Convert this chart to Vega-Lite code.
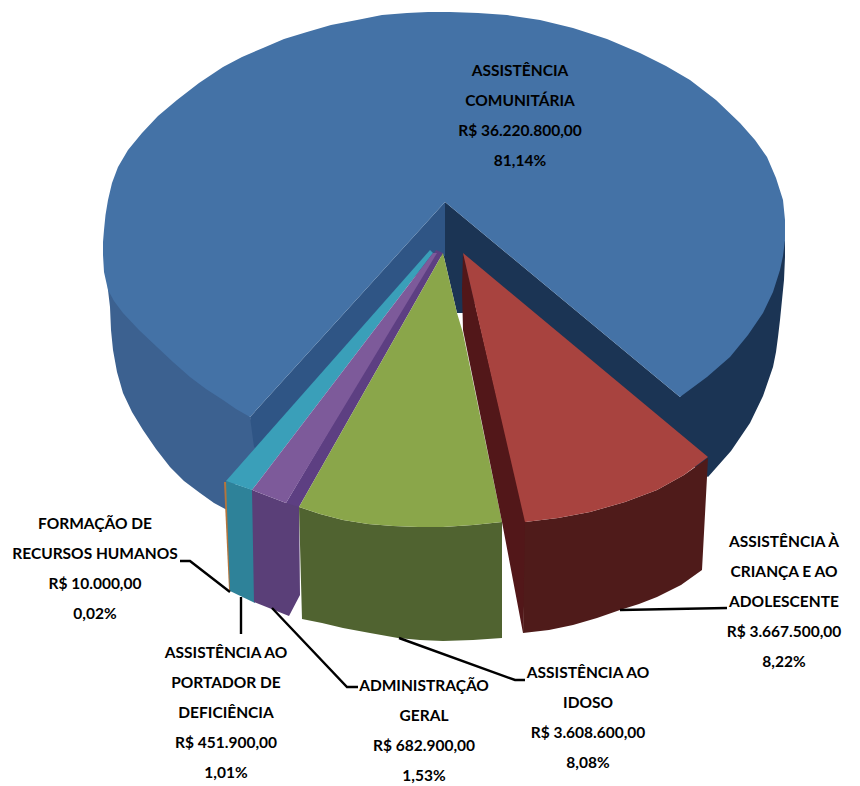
{
"$schema":"https://vega.github.io/schema/vega-lite/v6.json",
"width":860,"height":786,"padding":0,"autosize":{"type":"none"},
"background":"white",
"view":{"stroke":null},
"datasets":{
"shapes":[
{"part":"Comunitária parede direita","i":0,"x":445,"y":202},{"part":"Comunitária parede direita","i":1,"x":680,"y":397},{"part":"Comunitária parede direita","i":2,"x":785,"y":240},{"part":"Comunitária parede direita","i":3,"x":785,"y":257},{"part":"Comunitária parede direita","i":4,"x":784,"y":280},{"part":"Comunitária parede direita","i":5,"x":782,"y":300},{"part":"Comunitária parede direita","i":6,"x":780,"y":320},{"part":"Comunitária parede direita","i":7,"x":778,"y":337},{"part":"Comunitária parede direita","i":8,"x":776,"y":352},{"part":"Comunitária parede direita","i":9,"x":773,"y":367},{"part":"Comunitária parede direita","i":10,"x":763,"y":396},{"part":"Comunitária parede direita","i":11,"x":750,"y":423},{"part":"Comunitária parede direita","i":12,"x":731,"y":451},{"part":"Comunitária parede direita","i":13,"x":708,"y":477},{"part":"Comunitária parede direita","i":14,"x":470,"y":300},{"part":"Comunitária parede direita","i":15,"x":463,"y":313},{"part":"Comunitária parede direita","i":16,"x":457,"y":313},{"part":"Comunitária parede direita","i":17,"x":443,"y":253},
{"part":"Comunitária parede esquerda","i":0,"x":105,"y":223},{"part":"Comunitária parede esquerda","i":1,"x":106,"y":250},{"part":"Comunitária parede esquerda","i":2,"x":107,"y":270},{"part":"Comunitária parede esquerda","i":3,"x":108,"y":290},{"part":"Comunitária parede esquerda","i":4,"x":110,"y":307},{"part":"Comunitária parede esquerda","i":5,"x":111,"y":330},{"part":"Comunitária parede esquerda","i":6,"x":113,"y":350},{"part":"Comunitária parede esquerda","i":7,"x":117,"y":372},{"part":"Comunitária parede esquerda","i":8,"x":123,"y":393},{"part":"Comunitária parede esquerda","i":9,"x":132,"y":412},{"part":"Comunitária parede esquerda","i":10,"x":143,"y":430},{"part":"Comunitária parede esquerda","i":11,"x":156,"y":449},{"part":"Comunitária parede esquerda","i":12,"x":170,"y":467},{"part":"Comunitária parede esquerda","i":13,"x":184,"y":481},{"part":"Comunitária parede esquerda","i":14,"x":200,"y":493},{"part":"Comunitária parede esquerda","i":15,"x":214,"y":503},{"part":"Comunitária parede esquerda","i":16,"x":227,"y":510},{"part":"Comunitária parede esquerda","i":17,"x":235,"y":484},{"part":"Comunitária parede esquerda","i":18,"x":262,"y":452},{"part":"Comunitária parede esquerda","i":19,"x":250,"y":417},
{"part":"Comunitária corte","i":0,"x":445,"y":202},{"part":"Comunitária corte","i":1,"x":445,"y":256},{"part":"Comunitária corte","i":2,"x":433,"y":256},{"part":"Comunitária corte","i":3,"x":262,"y":452},{"part":"Comunitária corte","i":4,"x":254,"y":447},{"part":"Comunitária corte","i":5,"x":250,"y":417},
{"part":"Comunitária topo","i":0,"x":445,"y":202},{"part":"Comunitária topo","i":1,"x":250,"y":417},{"part":"Comunitária topo","i":2,"x":236,"y":409},{"part":"Comunitária topo","i":3,"x":223,"y":400},{"part":"Comunitária topo","i":4,"x":206,"y":389},{"part":"Comunitária topo","i":5,"x":190,"y":377},{"part":"Comunitária topo","i":6,"x":173,"y":362},{"part":"Comunitária topo","i":7,"x":157,"y":347},{"part":"Comunitária topo","i":8,"x":139,"y":330},{"part":"Comunitária topo","i":9,"x":123,"y":313},{"part":"Comunitária topo","i":10,"x":114,"y":301},{"part":"Comunitária topo","i":11,"x":108,"y":290},{"part":"Comunitária topo","i":12,"x":104,"y":272},{"part":"Comunitária topo","i":13,"x":103,"y":255},{"part":"Comunitária topo","i":14,"x":103,"y":242},{"part":"Comunitária topo","i":15,"x":104,"y":230},{"part":"Comunitária topo","i":16,"x":105.5,"y":215},{"part":"Comunitária topo","i":17,"x":108,"y":200},{"part":"Comunitária topo","i":18,"x":112,"y":183},{"part":"Comunitária topo","i":19,"x":118,"y":167},{"part":"Comunitária topo","i":20,"x":128,"y":150},{"part":"Comunitária topo","i":21,"x":142,"y":133},{"part":"Comunitária topo","i":22,"x":158,"y":116},{"part":"Comunitária topo","i":23,"x":177,"y":100},{"part":"Comunitária topo","i":24,"x":199,"y":83},{"part":"Comunitária topo","i":25,"x":223,"y":67},{"part":"Comunitária topo","i":26,"x":242,"y":57},{"part":"Comunitária topo","i":27,"x":263,"y":48},{"part":"Comunitária topo","i":28,"x":284,"y":39},{"part":"Comunitária topo","i":29,"x":307,"y":32},{"part":"Comunitária topo","i":30,"x":331,"y":25},{"part":"Comunitária topo","i":31,"x":357,"y":20},{"part":"Comunitária topo","i":32,"x":382,"y":15},{"part":"Comunitária topo","i":33,"x":407,"y":13},{"part":"Comunitária topo","i":34,"x":428,"y":12},{"part":"Comunitária topo","i":35,"x":450,"y":12},{"part":"Comunitária topo","i":36,"x":478,"y":13},{"part":"Comunitária topo","i":37,"x":507,"y":15},{"part":"Comunitária topo","i":38,"x":540,"y":20},{"part":"Comunitária topo","i":39,"x":573,"y":28},{"part":"Comunitária topo","i":40,"x":607,"y":39},{"part":"Comunitária topo","i":41,"x":640,"y":53},{"part":"Comunitária topo","i":42,"x":666,"y":66},{"part":"Comunitária topo","i":43,"x":690,"y":80},{"part":"Comunitária topo","i":44,"x":716,"y":100},{"part":"Comunitária topo","i":45,"x":740,"y":123},{"part":"Comunitária topo","i":46,"x":755,"y":140},{"part":"Comunitária topo","i":47,"x":767,"y":157},{"part":"Comunitária topo","i":48,"x":776,"y":178},{"part":"Comunitária topo","i":49,"x":783,"y":200},{"part":"Comunitária topo","i":50,"x":785,"y":220},{"part":"Comunitária topo","i":51,"x":785,"y":240},{"part":"Comunitária topo","i":52,"x":783,"y":256},{"part":"Comunitária topo","i":53,"x":780,"y":270},{"part":"Comunitária topo","i":54,"x":773,"y":292},{"part":"Comunitária topo","i":55,"x":763,"y":313},{"part":"Comunitária topo","i":56,"x":748,"y":335},{"part":"Comunitária topo","i":57,"x":730,"y":357},{"part":"Comunitária topo","i":58,"x":707,"y":377},{"part":"Comunitária topo","i":59,"x":680,"y":397},
{"part":"Formação frente","i":0,"x":224,"y":482},{"part":"Formação frente","i":1,"x":228,"y":482},{"part":"Formação frente","i":2,"x":232,"y":591},{"part":"Formação frente","i":3,"x":229,"y":590},
{"part":"Portador frente","i":0,"x":226,"y":481},{"part":"Portador frente","i":1,"x":253,"y":490},{"part":"Portador frente","i":2,"x":255,"y":603},{"part":"Portador frente","i":3,"x":230,"y":591},
{"part":"Portador topo","i":0,"x":430,"y":250},{"part":"Portador topo","i":1,"x":433,"y":253},{"part":"Portador topo","i":2,"x":252,"y":490},{"part":"Portador topo","i":3,"x":226,"y":481},
{"part":"Geral frente","i":0,"x":252,"y":490},{"part":"Geral frente","i":1,"x":286,"y":503},{"part":"Geral frente","i":2,"x":299,"y":500},{"part":"Geral frente","i":3,"x":300,"y":595},{"part":"Geral frente","i":4,"x":289,"y":616},{"part":"Geral frente","i":5,"x":254,"y":602},
{"part":"Geral corte","i":0,"x":436,"y":250},{"part":"Geral corte","i":1,"x":286,"y":503},{"part":"Geral corte","i":2,"x":299,"y":507},{"part":"Geral corte","i":3,"x":443,"y":253},
{"part":"Geral topo","i":0,"x":433,"y":253},{"part":"Geral topo","i":1,"x":252,"y":490},{"part":"Geral topo","i":2,"x":286,"y":503},{"part":"Geral topo","i":3,"x":437,"y":253},
{"part":"Idoso frente","i":0,"x":299,"y":507},{"part":"Idoso frente","i":1,"x":320,"y":514},{"part":"Idoso frente","i":2,"x":343,"y":520},{"part":"Idoso frente","i":3,"x":368,"y":524},{"part":"Idoso frente","i":4,"x":393,"y":526},{"part":"Idoso frente","i":5,"x":418,"y":527},{"part":"Idoso frente","i":6,"x":443,"y":527},{"part":"Idoso frente","i":7,"x":473,"y":525},{"part":"Idoso frente","i":8,"x":502,"y":522},{"part":"Idoso frente","i":9,"x":502,"y":638},{"part":"Idoso frente","i":10,"x":473,"y":640},{"part":"Idoso frente","i":11,"x":443,"y":641},{"part":"Idoso frente","i":12,"x":420,"y":640},{"part":"Idoso frente","i":13,"x":398,"y":638},{"part":"Idoso frente","i":14,"x":370,"y":633},{"part":"Idoso frente","i":15,"x":343,"y":628},{"part":"Idoso frente","i":16,"x":322,"y":623},{"part":"Idoso frente","i":17,"x":302,"y":619},
{"part":"Idoso topo","i":0,"x":443,"y":253},{"part":"Idoso topo","i":1,"x":299,"y":507},{"part":"Idoso topo","i":2,"x":320,"y":514},{"part":"Idoso topo","i":3,"x":343,"y":520},{"part":"Idoso topo","i":4,"x":368,"y":524},{"part":"Idoso topo","i":5,"x":393,"y":526},{"part":"Idoso topo","i":6,"x":418,"y":527},{"part":"Idoso topo","i":7,"x":443,"y":527},{"part":"Idoso topo","i":8,"x":473,"y":525},{"part":"Idoso topo","i":9,"x":502,"y":522},{"part":"Idoso topo","i":10,"x":463,"y":333},{"part":"Idoso topo","i":11,"x":457,"y":313},
{"part":"Criança corte","i":0,"x":463,"y":253},{"part":"Criança corte","i":1,"x":527,"y":525},{"part":"Criança corte","i":2,"x":523,"y":633},{"part":"Criança corte","i":3,"x":502,"y":522},{"part":"Criança corte","i":4,"x":463,"y":330},{"part":"Criança corte","i":5,"x":462,"y":290},
{"part":"Criança frente","i":0,"x":525,"y":522},{"part":"Criança frente","i":1,"x":558,"y":518},{"part":"Criança frente","i":2,"x":590,"y":512},{"part":"Criança frente","i":3,"x":625,"y":502},{"part":"Criança frente","i":4,"x":657,"y":490},{"part":"Criança frente","i":5,"x":684,"y":475},{"part":"Criança frente","i":6,"x":708,"y":458},{"part":"Criança frente","i":7,"x":707,"y":477},{"part":"Criança frente","i":8,"x":702,"y":570},{"part":"Criança frente","i":9,"x":681,"y":585},{"part":"Criança frente","i":10,"x":657,"y":597},{"part":"Criança frente","i":11,"x":639,"y":604},{"part":"Criança frente","i":12,"x":620,"y":610},{"part":"Criança frente","i":13,"x":597,"y":618},{"part":"Criança frente","i":14,"x":573,"y":625},{"part":"Criança frente","i":15,"x":549,"y":630},{"part":"Criança frente","i":16,"x":523,"y":633},
{"part":"Criança topo","i":0,"x":463,"y":253},{"part":"Criança topo","i":1,"x":708,"y":457},{"part":"Criança topo","i":2,"x":684,"y":475},{"part":"Criança topo","i":3,"x":657,"y":490},{"part":"Criança topo","i":4,"x":625,"y":502},{"part":"Criança topo","i":5,"x":590,"y":512},{"part":"Criança topo","i":6,"x":558,"y":518},{"part":"Criança topo","i":7,"x":525,"y":522}
],
"leaders":[
{"id":"Formação","i":0,"x":180,"y":561},{"id":"Formação","i":1,"x":190,"y":561},{"id":"Formação","i":2,"x":230,"y":592},
{"id":"Portador","i":0,"x":241,"y":597},{"id":"Portador","i":1,"x":241,"y":634},
{"id":"Geral","i":0,"x":272,"y":608},{"id":"Geral","i":1,"x":347,"y":687},{"id":"Geral","i":2,"x":358,"y":687},
{"id":"Idoso","i":0,"x":399,"y":638},{"id":"Idoso","i":1,"x":515,"y":680},{"id":"Idoso","i":2,"x":525,"y":680},
{"id":"Criança","i":0,"x":620,"y":610},{"id":"Criança","i":1,"x":727,"y":608}
],
"labels":[
{"categoria":"ASSISTÊNCIA COMUNITÁRIA","valor":36220800,"pct":81.14,"x":520,"y":71,"label":"ASSISTÊNCIA\nCOMUNITÁRIA\nR$ 36.220.800,00\n81,14%"},
{"categoria":"ASSISTÊNCIA À CRIANÇA E AO ADOLESCENTE","valor":3667500,"pct":8.22,"x":784,"y":542,"label":"ASSISTÊNCIA À\nCRIANÇA E AO\nADOLESCENTE\nR$ 3.667.500,00\n8,22%"},
{"categoria":"ASSISTÊNCIA AO IDOSO","valor":3608600,"pct":8.08,"x":588,"y":673,"label":"ASSISTÊNCIA AO\nIDOSO\nR$ 3.608.600,00\n8,08%"},
{"categoria":"ADMINISTRAÇÃO GERAL","valor":682900,"pct":1.53,"x":424,"y":686,"label":"ADMINISTRAÇÃO\nGERAL\nR$ 682.900,00\n1,53%"},
{"categoria":"ASSISTÊNCIA AO PORTADOR DE DEFICIÊNCIA","valor":451900,"pct":1.01,"x":226,"y":653,"label":"ASSISTÊNCIA AO\nPORTADOR DE\nDEFICIÊNCIA\nR$ 451.900,00\n1,01%"},
{"categoria":"FORMAÇÃO DE RECURSOS HUMANOS","valor":10000,"pct":0.02,"x":95,"y":524,"label":"FORMAÇÃO DE\nRECURSOS HUMANOS\nR$ 10.000,00\n0,02%"}
]
},
"layer":[
{"data":{"name":"shapes"},
 "mark":{"type":"line","filled":true,"strokeWidth":0.6,"strokeJoin":"round"},
 "encoding":{
  "x":{"field":"x","type":"quantitative","scale":{"domain":[0,860],"nice":false,"zero":false},"axis":null},
  "y":{"field":"y","type":"quantitative","scale":{"domain":[786,0],"nice":false,"zero":false},"axis":null},
  "order":{"field":"i","type":"quantitative"},
  "detail":{"field":"part"},
  "color":{"field":"part","type":"nominal","legend":null,"sort":null,
   "scale":{
    "domain":["Comunitária parede direita","Comunitária parede esquerda","Comunitária corte","Comunitária topo","Formação frente","Portador frente","Portador topo","Geral frente","Geral corte","Geral topo","Idoso frente","Idoso topo","Criança corte","Criança frente","Criança topo"],
    "range":["#1b3454","#3c6190","#2f5585","#4472a6","#b5743c","#2e8299","#3a9fb9","#5a3f78","#5d3f82","#7d5a9a","#506330","#8aa64a","#521719","#4f1b1a","#a8433f"]}}
 }},
{"data":{"name":"leaders"},
 "mark":{"type":"line","color":"black","strokeWidth":2.4},
 "encoding":{
  "x":{"field":"x","type":"quantitative"},
  "y":{"field":"y","type":"quantitative"},
  "order":{"field":"i","type":"quantitative"},
  "detail":{"field":"id"}
 }},
{"data":{"name":"labels"},
 "mark":{"type":"text","font":"Lato","fontWeight":"bold","fontSize":15.5,"color":"black","align":"center","baseline":"middle","lineBreak":"\n","lineHeight":30},
 "encoding":{
  "x":{"field":"x","type":"quantitative"},
  "y":{"field":"y","type":"quantitative"},
  "text":{"field":"label"}
 }}
]
}
